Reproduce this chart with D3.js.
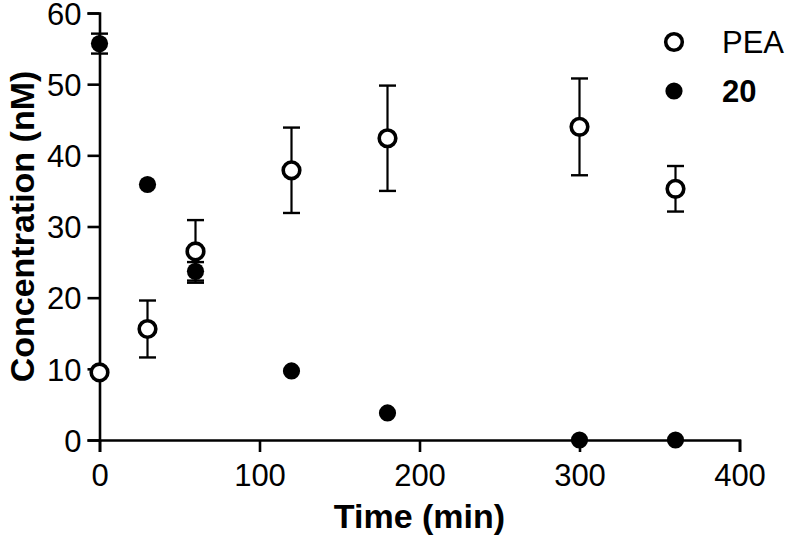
<!DOCTYPE html>
<html>
<head>
<meta charset="utf-8">
<script src="https://cdn.jsdelivr.net/npm/d3@7"></script>
<style>
  body { margin: 0; background: #fff; }
  text { font-family: "Liberation Sans", Arial, sans-serif; fill: #000; }
</style>
</head>
<body>
<div id="graph"></div>
<script>
// time points (min)
var times = [0, 30, 60, 120, 180, 300, 360];

// PEA: mean and error (nM)
var peaMean = [9.5, 15.6, 26.5, 37.9, 42.4, 44.0, 35.3];
var peaErr  = [0,   4.0,  4.4,  6.0,  7.4,  6.8,  3.2];

// compound 20: mean and error (nM)
var c20Mean = [55.7, 35.9, 23.7, 9.7, 3.8, 0, 0];
var c20Err  = [1.4,  0,    1.3,  0,   0,   0, 0];

var xTicks = [0, 100, 200, 300, 400];
var yTicks = [0, 10, 20, 30, 40, 50, 60];
var legendLabels = ["PEA", "20"];

var width = 793, height = 539;
var margin = { left: 99.5, top: 13, right: 53.5, bottom: 99 };

var svg = d3.select("#graph").append("svg")
    .attr("width", width)
    .attr("height", height);

var x = d3.scaleLinear().domain([0, 400]).range([margin.left, width - margin.right]);
var y = d3.scaleLinear().domain([0, 60]).range([height - margin.bottom, margin.top]);

// axes
var xAxis = svg.append("g")
    .attr("transform", "translate(0," + y(0) + ")")
    .call(d3.axisBottom(x).tickValues(xTicks).tickSize(12).tickPadding(6).tickFormat(d3.format("d")));
var yAxis = svg.append("g")
    .attr("transform", "translate(" + x(0) + ",0)")
    .call(d3.axisLeft(y).tickValues(yTicks).tickSize(12).tickPadding(6).tickFormat(d3.format("d")));

[xAxis, yAxis].forEach(function(a) {
    a.select(".domain").attr("stroke", "#000").attr("stroke-width", 2.6);
    a.selectAll(".tick line").attr("stroke", "#000").attr("stroke-width", 2.6);
    a.selectAll(".tick text").style("font-size", "31px").attr("fill", "#000");
});
xAxis.selectAll(".tick text").attr("dy", "0.9em");
yAxis.selectAll(".tick text").attr("dy", "0.36em");

// axis titles
svg.append("text")
    .attr("x", x(200))
    .attr("y", 528)
    .attr("text-anchor", "middle")
    .style("font-size", "34px")
    .style("font-weight", "bold")
    .text("Time (min)");

svg.append("text")
    .attr("transform", "translate(34," + ((y(0) + y(60)) / 2) + ") rotate(-90)")
    .attr("text-anchor", "middle")
    .style("font-size", "34px")
    .style("font-weight", "bold")
    .text("Concentration (nM)");

function drawSeries(means, errs, filled) {
    var data = times.map(function(t, i) { return { t: t, m: means[i], e: errs[i] }; });
    var g = svg.append("g");
    var bars = data.filter(function(d) { return d.e > 0; });

    g.selectAll("line.err")
        .data(bars)
        .enter().append("line")
        .attr("x1", function(d) { return x(d.t); })
        .attr("x2", function(d) { return x(d.t); })
        .attr("y1", function(d) { return y(d.m - d.e); })
        .attr("y2", function(d) { return y(d.m + d.e); })
        .attr("stroke", "#000").attr("stroke-width", 2.2);

    ["top", "bot"].forEach(function(side) {
        g.selectAll("line.cap-" + side)
            .data(bars)
            .enter().append("line")
            .attr("x1", function(d) { return x(d.t) - 8.5; })
            .attr("x2", function(d) { return x(d.t) + 8.5; })
            .attr("y1", function(d) { return y(side === "top" ? d.m + d.e : d.m - d.e); })
            .attr("y2", function(d) { return y(side === "top" ? d.m + d.e : d.m - d.e); })
            .attr("stroke", "#000").attr("stroke-width", 2.4);
    });

    g.selectAll("circle")
        .data(data)
        .enter().append("circle")
        .attr("cx", function(d) { return x(d.t); })
        .attr("cy", function(d) { return y(d.m); })
        .attr("r", filled ? 8.6 : 8.3)
        .attr("fill", filled ? "#000" : "#fff")
        .attr("stroke", "#000")
        .attr("stroke-width", filled ? 0 : 3.6);
}

drawSeries(peaMean, peaErr, false);
drawSeries(c20Mean, c20Err, true);

// legend
var legend = svg.append("g");
legendLabels.forEach(function(lab, i) {
    var cy = 42 + i * 49;
    legend.append("circle")
        .attr("cx", 674).attr("cy", cy)
        .attr("r", i === 0 ? 8.3 : 8.6)
        .attr("fill", i === 0 ? "#fff" : "#000")
        .attr("stroke", "#000")
        .attr("stroke-width", i === 0 ? 3.6 : 0);
    legend.append("text")
        .attr("x", 722).attr("y", cy + 11)
        .style("font-size", "31px")
        .style("font-weight", i === 0 ? "normal" : "bold")
        .text(lab);
});
</script>
</body>
</html>
